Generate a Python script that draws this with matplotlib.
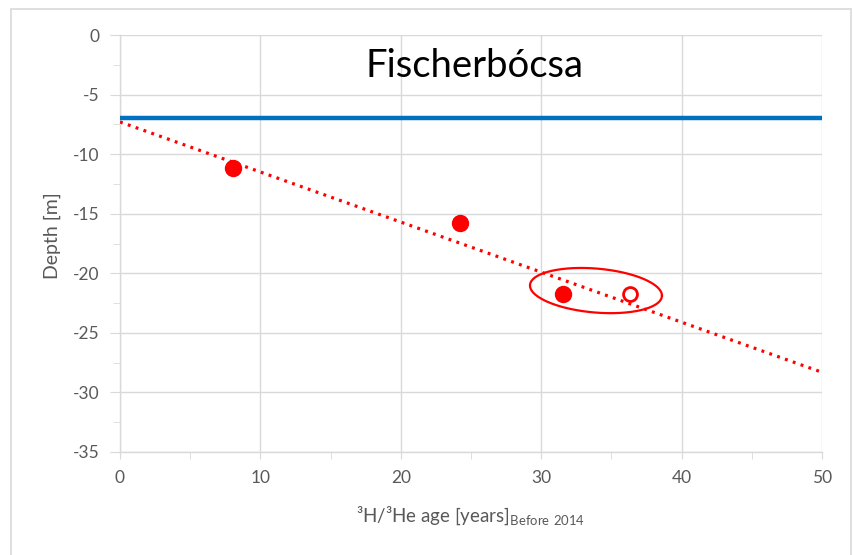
import numpy as np
import matplotlib
matplotlib.use("Agg")
import matplotlib.pyplot as plt
from matplotlib.patches import Rectangle

plt.rcParams['font.family'] = ['Lato', 'DejaVu Sans']
plt.rcParams['axes.unicode_minus'] = False
plt.rcParams['mathtext.fontset'] = 'custom'
plt.rcParams['mathtext.rm'] = 'Lato'

# data
age_filled = [8.05, 24.2, 31.55]
depth_filled = [-11.2, -15.8, -21.7]
age_open = [36.3]
depth_open = [-21.7]
water_level = -7.0

# highlighted group (ellipse): centre, half widths, tilt
ell_center = (33.9, -21.45)
ell_half = (4.7, 1.85)
ell_shear = -0.09

x_ticks = [0, 10, 20, 30, 40, 50]
y_ticks = [0, -5, -10, -15, -20, -25, -30, -35]

tick_col = '#595959'
grid_col = '#d9d9d9'

fig = plt.figure(figsize=(8.54, 5.55), dpi=100)
ax = fig.add_axes([120 / 854, 103 / 555, 702 / 854, 417 / 555])

# outer frame of the chart
fig.patches.append(Rectangle((11 / 854, -0.01), 840 / 854, 1 - 9 / 555 + 0.01,
                             transform=fig.transFigure, fill=False,
                             edgecolor='#d9d9d9', linewidth=1.2))

# trend line fitted to the filled points
slope, icpt = np.polyfit(age_filled, depth_filled, 1)
xs = np.array([0, 50])
ax.plot(xs, slope * xs + icpt, color='#ff0000', linewidth=2.3,
        linestyle=(0, (0.9, 1.7)), zorder=3)

# water level
ax.plot([0, 50], [water_level, water_level], color='#0070c0', linewidth=3.2,
        solid_capstyle='butt', zorder=3)

ax.plot(age_filled, depth_filled, 'o', color='#ff0000', markersize=11.5, zorder=4)
ax.plot(age_open, depth_open, 'o', markerfacecolor='white',
        markeredgecolor='#ff0000', markeredgewidth=2, markersize=10, zorder=4)

t = np.linspace(0, 2 * np.pi, 200)
ex = ell_center[0] + ell_half[0] * np.cos(t)
ey = ell_center[1] + ell_half[1] * np.sin(t) + ell_shear * (ex - ell_center[0])
ax.plot(ex, ey, color='#ff0000', linewidth=1.6, zorder=4)

ax.set_xlim(0, 50)
ax.set_ylim(-35, 0)
ax.set_xticks(x_ticks)
ax.set_yticks(y_ticks)
ax.set_xticks([5, 15, 25, 35, 45], minor=True)
ax.set_yticks(np.arange(-32.5, 0, 5), minor=True)
ax.set_yticklabels([str(v) for v in y_ticks])
ax.grid(True, which='major', color=grid_col, linewidth=1)
ax.set_axisbelow(True)
for s in ['top', 'right']:
    ax.spines[s].set_visible(False)
for s in ['left', 'bottom']:
    ax.spines[s].set_color(grid_col)
    ax.spines[s].set_linewidth(1)
ax.tick_params(which='both', colors=grid_col, labelcolor=tick_col, labelsize=12.5)
ax.tick_params(axis='y', which='major', length=7, pad=8)
ax.tick_params(axis='y', which='minor', length=5)
ax.tick_params(axis='x', which='both', length=5, pad=8)

ax.set_ylabel('Depth [m]', color=tick_col, fontsize=14)
ax.yaxis.set_label_coords(-0.084, 0.52)
ax.set_xlabel('³H/³He age [years]$_{\\mathrm{Before\\ 2014}}$', color=tick_col,
              fontsize=13.5, labelpad=13)

ax.text(0.505, 0.899, 'Fischerbócsa', transform=ax.transAxes, ha='center',
        va='baseline', fontsize=27.5, color='black')

fig.savefig('out.png', dpi=100)
